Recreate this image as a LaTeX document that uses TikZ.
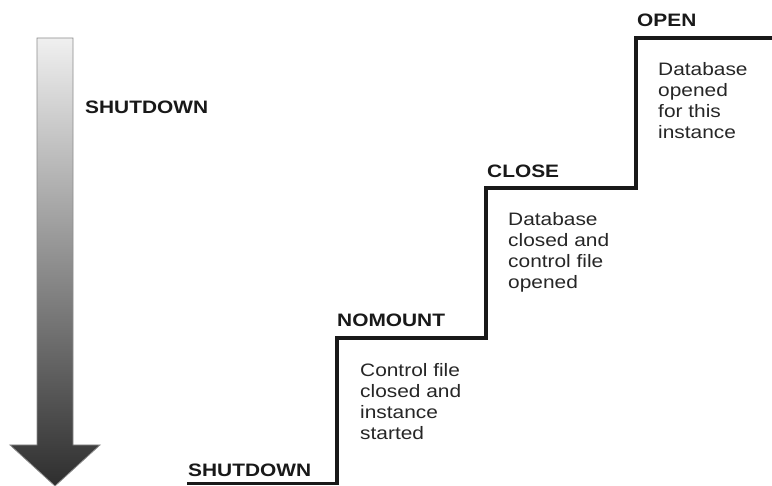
\documentclass[tikz,border=0pt]{standalone}
\usepackage{fontspec}
\setmainfont{Liberation Sans}[FakeStretch=1.16]
\begin{document}
\begin{tikzpicture}[x=1pt,y=-1pt,
  stair/.style={line width=3.2pt,line join=miter,line cap=butt,black!90},
  statelbl/.style={font=\fontsize{18}{21}\selectfont\bfseries,anchor=base west,inner sep=0pt,text=black!90},
  desc/.style={font=\fontsize{18}{21}\selectfont,anchor=north west,inner sep=0pt,align=left,text=black!85},
  arrowbody/.style={top color=black!6,bottom color=black!82,draw=black!45,line width=0.8pt}]
\useasboundingbox (0,0) rectangle (772,486);
% big downward arrow
\path[arrowbody] (37,38) -- (73,38) -- (73,445) -- (100,445) -- (55,486) -- (10,445) -- (37,445) -- cycle;
% staircase
\coordinate (s0) at (187,483.5);
\coordinate (s1) at (337,483.5);
\coordinate (s2) at (337,338);
\coordinate (s3) at (486,338);
\coordinate (s4) at (486,188);
\coordinate (s5) at (636,188);
\coordinate (s6) at (636,38);
\coordinate (s7) at (772,38);
\draw[stair] (s0) -- (s1) -- (s2) -- (s3) -- (s4) -- (s5) -- (s6) -- (s7);
% labels
\node[statelbl] (shutTop) at (85,114) {SHUTDOWN};
\node[statelbl] (shutBot) at (188,477) {SHUTDOWN};
\node[statelbl] (nomount) at (337,327) {NOMOUNT};
\node[statelbl] (close) at (487,178) {CLOSE};
\node[statelbl] (open) at (637,27) {OPEN};
% descriptions
\node[desc] (dNomount) at (360,363) {Control file\\closed and\\instance\\started};
\node[desc] (dClose) at (508,212) {Database\\closed and\\control file\\opened};
\node[desc] (dOpen) at (658,62) {Database\\opened\\for this\\instance};
\end{tikzpicture}
\end{document}
